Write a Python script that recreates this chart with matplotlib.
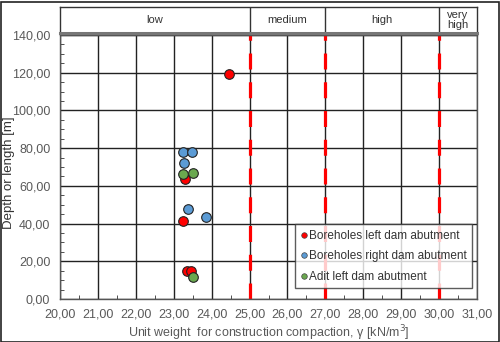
import matplotlib
matplotlib.use("Agg")
import matplotlib.pyplot as plt
from matplotlib.ticker import FuncFormatter, MultipleLocator
from matplotlib.patches import Rectangle
from matplotlib.lines import Line2D

plt.rcParams['font.family'] = ['Liberation Sans', 'DejaVu Sans']

# Unit weight (x) and depth/length (y) per sample group
left_x = [24.46, 23.30, 23.24, 23.36, 23.45]
left_y = [119.1, 63.5, 41.4, 14.8, 14.8]
right_x = [23.24, 23.49, 23.28, 23.37, 23.86]
right_y = [77.8, 77.8, 72.3, 47.5, 43.6]
adit_x = [23.24, 23.51, 23.51]
adit_y = [66.1, 67.0, 11.5]

series_labels = ["Boreholes left dam abutment",
                 "Boreholes right dam abutment",
                 "Adit left dam abutment"]
series_colors = ["#ff0000", "#5b9bd5", "#6aa84f"]

# Compaction classes along the x axis
class_names = ["low", "medium", "high", "very\nhigh"]
class_edges = [20.0, 25.0, 27.0, 30.0, 31.0]
boundaries = [25.0, 27.0, 30.0]

W, H = 500, 342
fig = plt.figure(figsize=(W / 100, H / 100), dpi=100)
fig.patch.set_facecolor("white")

ax = fig.add_axes([60 / W, (H - 299) / H, 417 / W, 264 / H])
ax.set_xlim(20, 31)
ax.set_ylim(0, 140)

comma = FuncFormatter(lambda v, p: f"{v:.2f}".replace(".", ","))
ax.xaxis.set_major_locator(MultipleLocator(1))
ax.xaxis.set_minor_locator(MultipleLocator(0.5))
ax.yaxis.set_major_locator(MultipleLocator(20))
ax.yaxis.set_minor_locator(MultipleLocator(5))
ax.xaxis.set_major_formatter(comma)
ax.yaxis.set_major_formatter(comma)
ax.tick_params(which="both", direction="in", colors="#333333",
               labelcolor="#595959", labelsize=9)
ax.tick_params(which="major", length=0, pad=7)
ax.tick_params(which="minor", length=3)
ax.grid(True, which="major", color="#222222", linewidth=1.0)
ax.set_axisbelow(True)
for s in ax.spines.values():
    s.set_color("#555555")
    s.set_linewidth(1.0)

for b in boundaries:
    ax.axvline(b, color="#ff0000", linewidth=2.3, linestyle=(0, (5, 4)), zorder=2)

for xs, ys, c in zip([left_x, right_x, adit_x], [left_y, right_y, adit_y], series_colors):
    ax.scatter(xs, ys, s=48, color=c, edgecolor="#222222", linewidth=0.8, zorder=3)

ax.set_xlabel("Unit weight  for construction compaction, γ [kN/m$^3$]",
              fontsize=9, color="#595959", labelpad=2)
ax.set_ylabel("Depth or length [m]", fontsize=9.5, color="#333333")
ax.yaxis.set_label_coords(-0.108, 0.48)

handles = [Line2D([], [], marker="o", linestyle="none", markersize=4,
                  markerfacecolor=c, markeredgecolor="#444444", markeredgewidth=0.5)
           for c in series_colors]
leg = ax.legend(handles, series_labels, loc="lower right",
                bbox_to_anchor=(472 / W, (H - 288) / H), bbox_transform=fig.transFigure,
                fontsize=8.5, frameon=True, fancybox=False, handlelength=0.6,
                handletextpad=0.1, borderpad=0.45, labelspacing=0.72,
                labelcolor="#333333", borderaxespad=0)
leg.get_frame().set_edgecolor("#333333")
leg.get_frame().set_linewidth(1.0)

# Class header strip above the plot
hx = fig.add_axes([60 / W, (H - 33) / H, 417 / W, 26 / H])
hx.set_xlim(20, 31)
hx.set_ylim(0, 1)
hx.set_xticks([])
hx.set_yticks([])
for s in hx.spines.values():
    s.set_color("#333333")
    s.set_linewidth(1.0)
hx.spines["bottom"].set_color("#777777")
hx.spines["bottom"].set_linewidth(2.2)
for name, a, b in zip(class_names, class_edges[:-1], class_edges[1:]):
    if a > class_edges[0]:
        hx.axvline(a, color="#333333", linewidth=1.0)
    hx.text((a + b) / 2, 0.5, name, ha="center", va="center",
            fontsize=8, color="#333333", linespacing=0.95)

# Outer border of the image
fig.add_artist(Rectangle((0.5 / W, 0.5 / H), (W - 2) / W, (H - 2) / H,
                         transform=fig.transFigure, fill=False,
                         edgecolor="#222222", linewidth=1.2))

fig.savefig("out.png", dpi=100)
